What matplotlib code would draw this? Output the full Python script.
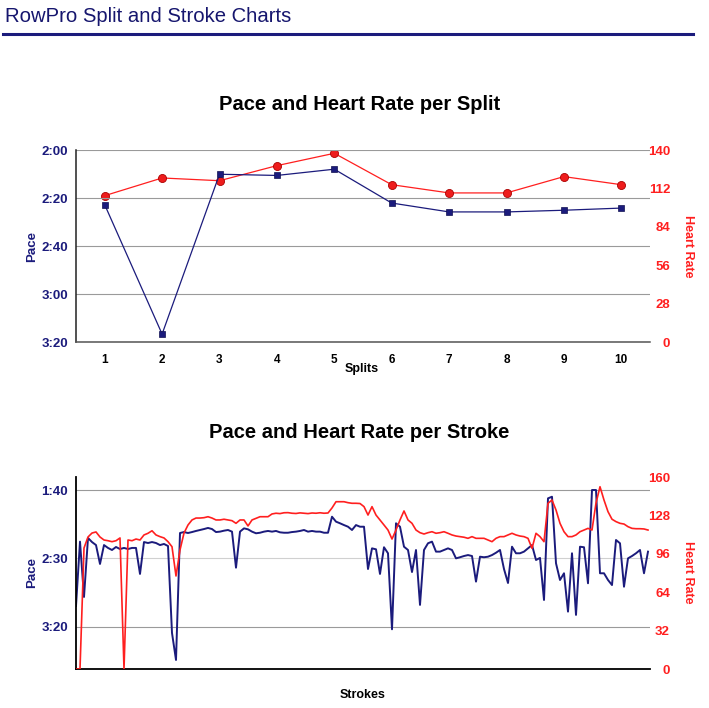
import matplotlib
matplotlib.use("Agg")
import matplotlib.pyplot as plt
from matplotlib.lines import Line2D

plt.rcParams['font.family'] = ['Liberation Sans', 'DejaVu Sans']

NAVY = "#1b1b7c"
RED = "#ff1f1f"
GRID = "#9a9a9a"

# ---------------- data ----------------
splits = [1, 2, 3, 4, 5, 6, 7, 8, 9, 10]
split_pace = [142.8, 196.7, 130.1, 130.6, 128.0, 142.1, 145.8, 145.8, 145.1, 144.2]   # seconds / 500m
split_hr = [106.7, 119.6, 117.6, 128.6, 137.6, 114.7, 108.7, 108.7, 120.6, 114.7]
split_pace_ticks = [120, 140, 160, 180, 200]
split_hr_ticks = [0, 28, 56, 84, 112, 140]

stroke_pace = [
    184.7, 137.7, 178.1, 135.0, 138.0, 140.2, 154.0, 140.2, 142.3, 143.8,
    141.6, 143.1, 142.3, 143.1, 142.3, 142.3, 161.3, 138.0, 138.7, 138.0,
    138.7, 140.2, 139.4, 140.9, 204.4, 224.1, 131.4, 130.7, 131.4, 130.7,
    129.9, 129.2, 128.5, 127.7, 128.5, 130.7, 130.4, 129.7, 129.2, 130.4,
    156.7, 130.4, 128.0, 128.7, 130.4, 131.6, 131.2, 130.4, 129.9, 130.4,
    129.9, 130.9, 131.2, 131.2, 130.7, 130.4, 129.9, 129.2, 130.4, 129.9,
    130.4, 130.4, 131.2, 131.2, 119.5, 123.1, 124.3, 125.6, 126.8, 129.2,
    125.6, 126.8, 126.8, 157.7, 142.6, 143.3, 161.3, 141.8, 146.2, 201.7,
    124.3, 126.8, 141.4, 143.8, 159.9, 143.8, 183.9, 143.8, 138.9, 137.7,
    145.0, 145.0, 143.8, 142.6, 143.8, 149.9, 149.1, 148.2, 147.5, 148.2,
    166.9, 148.7, 149.1, 148.7, 147.5, 145.8, 143.8, 157.7, 167.9, 141.4,
    146.2, 146.2, 145.0, 142.6, 140.2, 151.1, 149.6, 180.3, 106.1, 104.9,
    153.5, 165.7, 160.8, 188.8, 146.2, 191.2, 141.4, 141.8, 168.1, 100.0,
    100.0, 160.8, 160.8, 165.7, 169.4, 136.5, 138.9, 170.6, 149.9, 148.2,
    146.2, 143.8, 160.8, 145.0,
]
stroke_hr = [
    0.0, 0.0, 100.8, 110.0, 113.3, 114.2, 110.0, 107.5, 106.9, 106.1,
    106.9, 109.2, 0.0, 107.5, 106.9, 108.3, 107.5, 111.7, 113.1, 115.2,
    111.7, 110.3, 109.2, 106.1, 101.9, 77.5, 99.2, 113.3, 120.0, 124.2,
    125.8, 125.8, 126.1, 126.9, 125.8, 124.2, 124.2, 124.8, 124.2, 123.6,
    121.4, 124.2, 124.2, 119.2, 124.2, 125.6, 126.9, 126.9, 126.9, 129.2,
    129.8, 129.5, 130.2, 130.3, 129.8, 129.6, 130.1, 129.8, 129.5, 130.0,
    129.8, 130.2, 129.8, 130.0, 134.2, 139.4, 139.4, 139.4, 138.6, 138.1,
    138.1, 137.9, 135.3, 128.3, 135.3, 128.3, 124.2, 120.0, 115.8, 108.3,
    115.8, 124.2, 131.7, 124.2, 121.4, 115.8, 113.6, 112.5, 113.6, 114.4,
    113.1, 113.6, 114.4, 113.1, 111.7, 110.8, 110.3, 109.8, 108.9, 110.3,
    108.9, 108.9, 108.9, 107.5, 106.1, 108.9, 110.3, 110.3, 111.7, 113.1,
    111.7, 110.8, 110.3, 108.9, 100.6, 113.1, 110.3, 106.1, 138.1, 140.8,
    132.5, 121.4, 114.4, 110.3, 110.3, 111.7, 114.4, 115.8, 117.2, 115.8,
    138.3, 151.9, 140.8, 131.1, 124.8, 122.8, 121.4, 120.8, 118.6, 117.2,
    116.9, 116.9, 116.7, 115.8,
]
stroke_pace_ticks = [100, 150, 200]
stroke_hr_ticks = [0, 32, 64, 96, 128, 160]


def fmt(s):
    s = int(round(s))
    return f"{s // 60}:{s % 60:02d}"


W, H = 709, 708
fig = plt.figure(figsize=(W / 100, H / 100), dpi=100)


def fx(px):
    return px / W


def fy(py):
    return 1 - py / H


# header
fig.text(fx(5), fy(16), "RowPro Split and Stroke Charts", color="#16166e",
         fontsize=14.6, ha='left', va='center')
fig.add_artist(Line2D([fx(3), fx(693)], [fy(34), fy(34)], color=NAVY, lw=2.2))


def style_axes(ax, ax2, pace_ticks, hr_ticks, pace_lim, hr_lim, grid_colors):
    ax.set_ylim(*pace_lim)
    ax2.set_ylim(*hr_lim)
    ax.set_yticks(pace_ticks)
    ax.set_yticklabels([fmt(t) for t in pace_ticks], fontweight='bold',
                       fontsize=9.5, color=NAVY)
    ax2.set_yticks(hr_ticks)
    ax2.set_yticklabels([str(t) for t in hr_ticks], fontweight='bold',
                        fontsize=9.5, color=RED, ha='right')
    ax.tick_params(axis='y', length=0, pad=5.8)
    ax2.tick_params(axis='y', length=0, pad=14.4)
    for t, c in zip(pace_ticks, grid_colors):
        ax.axhline(t, color=c, lw=0.8, zorder=0.5)
    for s in ['top', 'right']:
        ax.spines[s].set_visible(False)
    for s in ax2.spines.values():
        s.set_visible(False)
    ax.set_facecolor('none')


# ---------------- top chart ----------------
ax = fig.add_axes([fx(76), fy(342), fx(650) - fx(76), (342 - 150) / H])
ax2 = ax.twinx()
ax.set_zorder(2)
ax2.set_zorder(1)
ax.patch.set_visible(False)
ax.set_xlim(0.5, 10.5)
style_axes(ax, ax2, split_pace_ticks, split_hr_ticks, (200, 120), (0, 140),
           [GRID] * 5)
ax.spines['left'].set_color('#222222')
ax.spines['left'].set_linewidth(1.1)
ax.spines['bottom'].set_color('#555555')
ax.spines['bottom'].set_linewidth(1.1)
ax.set_xticks(splits)
ax.set_xticklabels([str(s) for s in splits], fontweight='bold', fontsize=8.5)
ax.tick_params(axis='x', length=0, pad=8.6)
ax2.plot(splits, split_hr, color=RED, lw=0.9, marker='o', ms=5.8,
         mfc='#ee1c1c', mec='#aa0000', mew=0.6)
ax.plot(splits, split_pace, color=NAVY, lw=0.9, marker='s', ms=4.8,
        mfc=NAVY, mec='#101050', mew=0.5)

fig.text(fx(360), fy(105), "Pace and Heart Rate per Split", fontsize=14.5,
         fontweight='bold', ha='center', va='center')
fig.text(fx(362), fy(369), "Splits", fontsize=9, fontweight='bold',
         ha='center', va='center')
fig.text(fx(32), fy(246), "Pace", fontsize=9.5, fontweight='bold', color=NAVY,
         rotation=90, ha='center', va='center')
fig.text(fx(688), fy(246), "Heart Rate", fontsize=9, fontweight='bold',
         color=RED, rotation=270, ha='center', va='center')

# ---------------- bottom chart ----------------
bx = fig.add_axes([fx(76), fy(669), fx(650) - fx(76), (669 - 477) / H])
bx2 = bx.twinx()
bx.set_zorder(1)
bx2.set_zorder(2)
bx2.patch.set_visible(False)
n = len(stroke_pace)
bx.set_xlim(0, n - 0.5)
style_axes(bx, bx2, stroke_pace_ticks, stroke_hr_ticks, (230.7, 90.5), (0, 160),
           [GRID, '#d0d0d0', GRID])
bx.spines['left'].set_color('black')
bx.spines['left'].set_linewidth(1.3)
bx.spines['bottom'].set_color('black')
bx.spines['bottom'].set_linewidth(1.3)
bx.set_xticks([])
bx.plot(range(n), stroke_pace, color=NAVY, lw=1.4)
bx2.plot(range(len(stroke_hr)), stroke_hr, color=RED, lw=1.2)

fig.text(fx(359), fy(433), "Pace and Heart Rate per Stroke", fontsize=14.5,
         fontweight='bold', ha='center', va='center')
fig.text(fx(363), fy(695), "Strokes", fontsize=9, fontweight='bold',
         ha='center', va='center')
fig.text(fx(32), fy(572), "Pace", fontsize=9.5, fontweight='bold', color=NAVY,
         rotation=90, ha='center', va='center')
fig.text(fx(688), fy(572), "Heart Rate", fontsize=9, fontweight='bold',
         color=RED, rotation=270, ha='center', va='center')

fig.savefig("out.png", dpi=100)
